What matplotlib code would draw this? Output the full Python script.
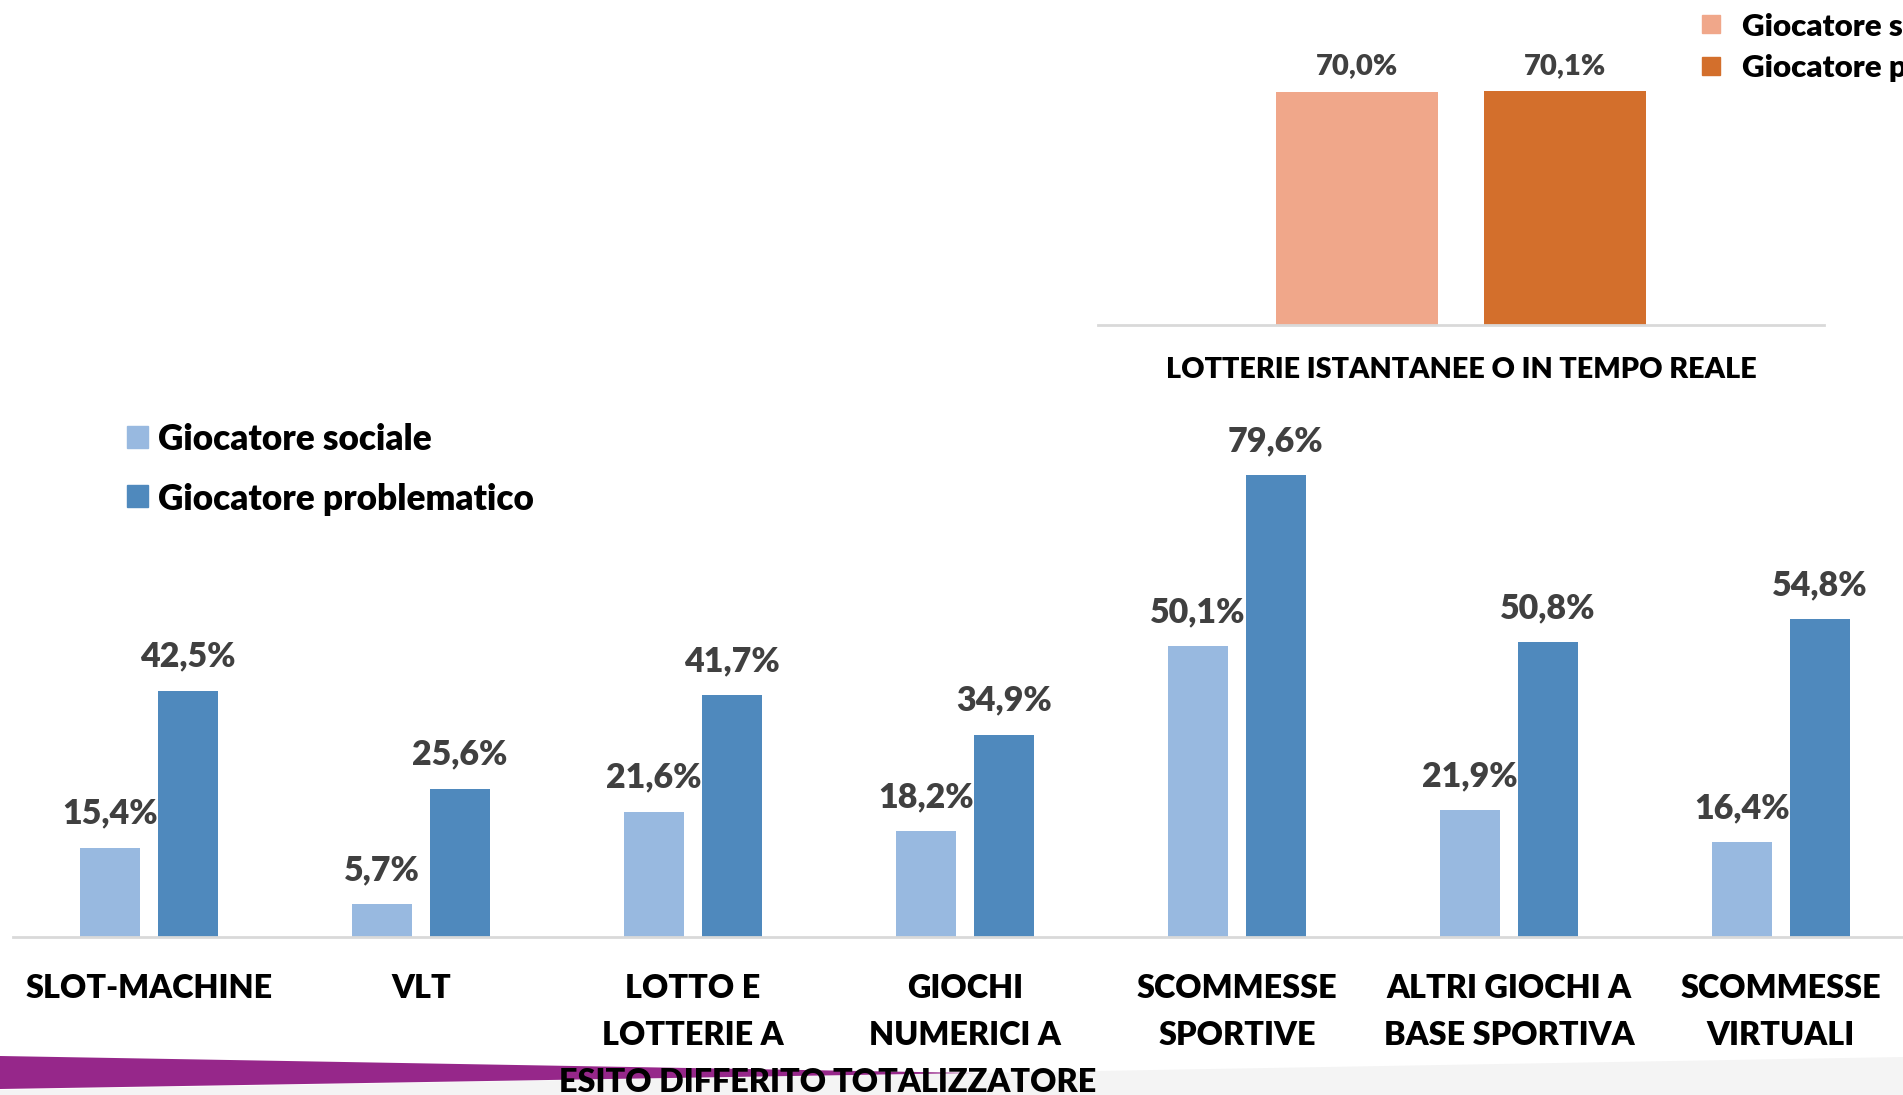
import matplotlib
matplotlib.use("Agg")
import matplotlib.pyplot as plt
from matplotlib.patches import Rectangle, Polygon
import numpy as np

plt.rcParams['font.family'] = ['Lato', 'DejaVu Sans']
plt.rcParams['font.weight'] = 'heavy'
WT = 'heavy'

# ---- data ----
categories = ["SLOT-MACHINE", "VLT", "LOTTO E\nLOTTERIE A\nESITO DIFFERITO",
              "GIOCHI\nNUMERICI A\nTOTALIZZATORE", "SCOMMESSE\nSPORTIVE",
              "ALTRI GIOCHI A\nBASE SPORTIVA", "SCOMMESSE\nVIRTUALI"]
sociale = [15.4, 5.7, 21.6, 18.2, 50.1, 21.9, 16.4]
problematico = [42.5, 25.6, 41.7, 34.9, 79.6, 50.8, 54.8]

top_categories = ["LOTTERIE ISTANTANEE O IN TEMPO REALE"]
top_sociale = [70.0]
top_problematico = [70.1]

series_names = ["Giocatore sociale", "Giocatore problematico"]
blue_colors = ["#98B9E0", "#4F89BD"]
orange_colors = ["#F0A78A", "#D36F2C"]

W, H = 1903, 1095
fig = plt.figure(figsize=(W / 100, H / 100), dpi=100)
fig.patch.set_facecolor("white")


def px_axes(left, bottom_from_top, width, height):
    return fig.add_axes([left / W, (H - bottom_from_top) / H, width / W, height / H])


def fmt(v):
    return f"{v:.1f}%".replace('.', ',')


def style(ax):
    ax.set_facecolor("none")
    for s in ["top", "left", "right"]:
        ax.spines[s].set_visible(False)
    ax.spines["bottom"].set_color("#D9D9D9")
    ax.spines["bottom"].set_linewidth(2)
    ax.set_yticks([])
    ax.tick_params(axis="x", length=0)


bw = 0.223
off = 0.143

# ---- lower chart ----
ax = px_axes(13, 937, 7 * 272, 580)
x = np.arange(len(categories))
b1 = ax.bar(x - off, sociale, bw, color=blue_colors[0])
b2 = ax.bar(x + off, problematico, bw, color=blue_colors[1])
ax.set_xlim(-0.5, len(categories) - 0.5)
ax.set_ylim(0, 100)
style(ax)
ax.set_xticks(x)
ax.set_xticklabels(categories, fontsize=23.3, fontweight=WT, linespacing=1.76)
ax.tick_params(axis="x", pad=26.5)
for bars, vals in ((b1, sociale), (b2, problematico)):
    for r, v in zip(bars, vals):
        ax.annotate(fmt(v), (r.get_x() + r.get_width() / 2, v), xytext=(0, 24.5),
                    textcoords="offset points", ha="center", va="center",
                    fontsize=24.5, fontweight=WT, color="#404040", annotation_clip=False)

# ---- upper chart ----
ax2 = px_axes(1098, 325, 726, 300)
xt = np.arange(len(top_categories))
t1 = ax2.bar(xt - off, top_sociale, bw, color=orange_colors[0])
t2 = ax2.bar(xt + off, top_problematico, bw, color=orange_colors[1])
ax2.set_xlim(-0.5, 0.5)
ax2.set_ylim(0, 90)
style(ax2)
ax2.set_xticks(xt)
ax2.set_xticklabels(top_categories, fontsize=20.7, fontweight=WT)
ax2.tick_params(axis="x", pad=23)
for bars, vals in ((t1, top_sociale), (t2, top_problematico)):
    for r, v in zip(bars, vals):
        ax2.annotate(fmt(v), (r.get_x() + r.get_width() / 2, v), xytext=(0, 18.5),
                     textcoords="offset points", ha="center", va="center",
                     fontsize=21, fontweight=WT, color="#404040", annotation_clip=False)

# ---- legends (manual, in figure pixels) ----
def legend_at(sq_x, sq_size, text_x, ys, colors, fs):
    for y, c, name in zip(ys, colors, series_names):
        fig.add_artist(Rectangle((sq_x / W, (H - y - sq_size / 2) / H), sq_size / W, sq_size / H,
                                 transform=fig.transFigure, color=c, zorder=3))
        fig.text(text_x / W, (H - y) / H, name, fontsize=fs, fontweight=WT,
                 color="black", ha="left", va="center_baseline")

legend_at(127, 21, 158, [437, 496], blue_colors, 25.3)
legend_at(1702, 18, 1742, [24, 66], orange_colors, 22.5)

# ---- decorative background shapes ----
fig.add_artist(Polygon([(0, (H - 1090) / H), (1, (H - 1057) / H), (1, 0), (0, 0)],
                       closed=True, transform=fig.transFigure, facecolor="#F4F4F4",
                       edgecolor="none", zorder=-2))
fig.add_artist(Polygon([(0, (H - 1056) / H), (975 / W, (H - 1073) / H), (0, (H - 1089) / H)],
                       closed=True, transform=fig.transFigure, facecolor="#96278A",
                       edgecolor="none", zorder=-1))

fig.savefig("out.png", dpi=100)
